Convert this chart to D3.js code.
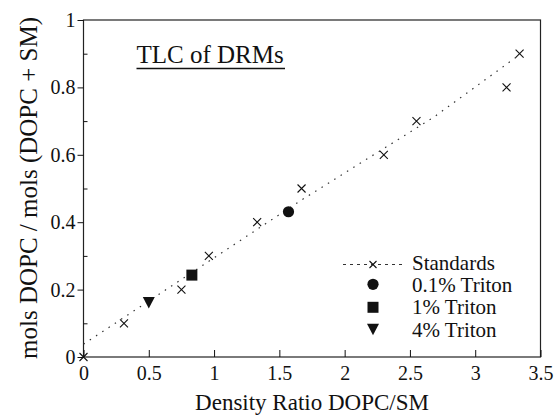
<!DOCTYPE html>
<html><head><meta charset="utf-8">
<style>
@font-face { font-family: "ChartSerif"; src: local("Liberation Serif"), local("LiberationSerif"), local("Times New Roman"); }
</style>
<script src="https://cdnjs.cloudflare.com/ajax/libs/d3/7.8.5/d3.min.js"></script>
</head>
<body style="margin:0">
<svg id="c" width="560" height="418"></svg>
<script>
// Standards (x markers)
const stdX = [0, 0.31, 0.75, 0.96, 1.33, 1.67, 2.30, 2.55, 3.24, 3.34];
const stdY = [0, 0.10, 0.20, 0.30, 0.40, 0.50, 0.60, 0.70, 0.80, 0.90];
// Fit line through standards
const fitX = [0, 1.67, 2.68, 3.34];
const fitY = [0.038, 0.466, 0.711, 0.897];
// Triton samples
const tritonLabels = ["0.1% Triton", "1% Triton", "4% Triton"];
const tritonX = [1.57, 0.83, 0.50];
const tritonY = [0.431, 0.243, 0.162];
const tritonSymbols = ["circle", "square", "triangle"];
// ticks
const xTicks = [0, 0.5, 1, 1.5, 2, 2.5, 3, 3.5];
const yTicks = [0, 0.2, 0.4, 0.6, 0.8, 1];
const yMinor = [0.1, 0.3, 0.5, 0.7, 0.9];

const FONT = "Liberation Serif";
const svg = d3.select("#c");
const x = d3.scaleLinear().domain([0, 3.5]).range([83.5, 540.5]);
const y = d3.scaleLinear().domain([0, 1]).range([357, 20]);
const ink = "#111";

function txt(sel, size) {
  return sel.attr("font-family", FONT).attr("font-size", size).attr("fill", ink);
}

// frame
svg.append("rect").attr("x", x(0)).attr("y", y(1)).attr("width", x(3.5) - x(0)).attr("height", y(0) - y(1))
  .attr("fill", "none").attr("stroke", "#222").attr("stroke-width", 1.2);

// y axis major (outward)
const ya = svg.append("g").attr("transform", `translate(${x(0)},0)`)
  .call(d3.axisLeft(y).tickValues(yTicks).tickSize(6).tickPadding(2).tickFormat(d3.format("~g")));
ya.attr("font-family", FONT).attr("font-size", 20);
ya.select(".domain").remove();
ya.selectAll("line").attr("stroke", ink);
txt(ya.selectAll("text"), 20);
// y minor (inward)
const ym = svg.append("g").attr("transform", `translate(${x(0)},0)`)
  .call(d3.axisRight(y).tickValues(yMinor).tickSize(4).tickFormat(""));
ym.select(".domain").remove();
ym.selectAll("line").attr("stroke", ink);

// x axis (inward ticks)
const xa = svg.append("g").attr("transform", `translate(0,${y(0)})`)
  .call(d3.axisBottom(x).tickValues(xTicks).tickSizeInner(-7).tickSizeOuter(0).tickPadding(9).tickFormat(d3.format("~g")));
xa.attr("font-family", FONT).attr("font-size", 20);
xa.select(".domain").remove();
xa.selectAll("line").attr("stroke", ink);
txt(xa.selectAll("text"), 20);

// axis titles
txt(svg.append("text").attr("x", (x(0) + x(3.5)) / 2).attr("y", 410).attr("text-anchor", "middle"), 23)
  .text("Density Ratio DOPC/SM");
txt(svg.append("text").attr("transform", `translate(37,188) rotate(-90)`).attr("text-anchor", "middle"), 25)
  .text("mols DOPC / mols (DOPC + SM)");

// title
txt(svg.append("text").attr("x", 136.5).attr("y", 63), 25).text("TLC of DRMs");
svg.append("line").attr("x1", 136.5).attr("x2", 285).attr("y1", 68.5).attr("y2", 68.5)
  .attr("stroke", ink).attr("stroke-width", 1.3);

// fit line
const fitPts = fitX.map((v, i) => [v, fitY[i]]);
svg.append("path").datum(fitPts)
  .attr("d", d3.line().x(d => x(d[0])).y(d => y(d[1])))
  .attr("fill", "none").attr("stroke", "#333").attr("stroke-width", 1.2).attr("stroke-dasharray", "1.5,6");

function cross(g, cx, cy, s) {
  g.append("path").attr("d", `M${cx - s},${cy - s}L${cx + s},${cy + s}M${cx - s},${cy + s}L${cx + s},${cy - s}`)
    .attr("stroke", ink).attr("stroke-width", 1.1).attr("fill", "none");
}
const gStd = svg.append("g");
stdX.forEach((v, i) => cross(gStd, x(v), y(stdY[i]), 4));

const sym = {
  circle: d3.symbol().type(d3.symbolCircle).size(Math.PI * 5.6 * 5.6),
  square: d3.symbol().type(d3.symbolSquare).size(11 * 11),
};
function drawSym(g, type, cx, cy) {
  if (type === "triangle") {
    g.append("path").attr("d", `M${cx - 6},${cy - 5.5}L${cx + 6},${cy - 5.5}L${cx},${cy + 6}Z`).attr("fill", ink);
  } else {
    g.append("path").attr("d", sym[type]()).attr("transform", `translate(${cx},${cy})`).attr("fill", ink);
  }
}
const gTr = svg.append("g");
tritonX.forEach((v, i) => drawSym(gTr, tritonSymbols[i], x(v), y(tritonY[i])));

// legend
const lg = svg.append("g");
lg.append("line").attr("x1", 343).attr("x2", 405).attr("y1", 264.5).attr("y2", 264.5)
  .attr("stroke", "#333").attr("stroke-width", 1).attr("stroke-dasharray", "3,4");
cross(lg, 373, 264.5, 3.5);
txt(lg.append("text").attr("x", 412).attr("y", 269.5), 21).text("Standards");
const rowY = [284.3, 307.3, 329.3];
const baseY = [291.5, 314, 336.5];
tritonLabels.forEach((lab, i) => {
  drawSym(lg, tritonSymbols[i], 373, rowY[i]);
  txt(lg.append("text").attr("x", 412).attr("y", baseY[i]), 21).text(lab);
});
</script>
</body></html>
